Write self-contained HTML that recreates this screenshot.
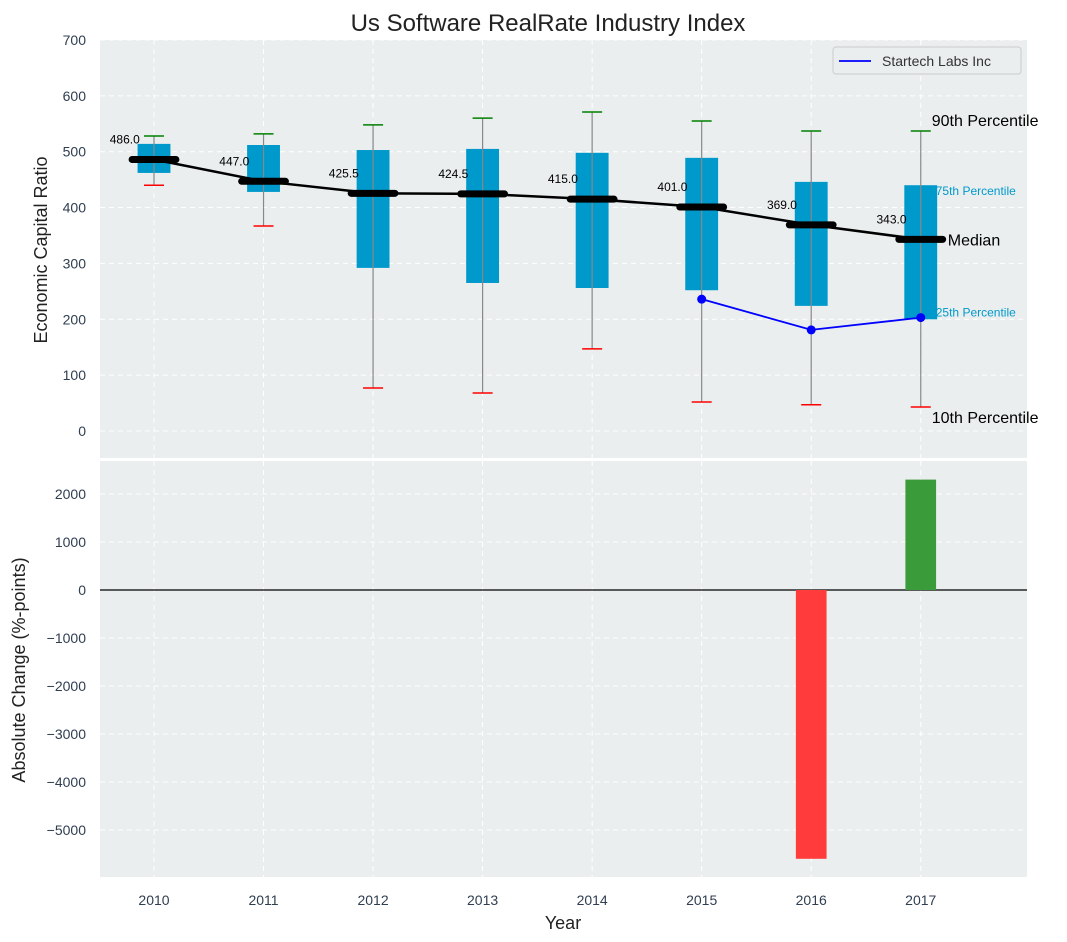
<!DOCTYPE html>
<html><head><meta charset="utf-8"><style>
body{margin:0;background:#fff;}
svg{display:block;font-family:"Liberation Sans","DejaVu Sans",sans-serif;}
</style></head><body>
<svg id="c" width="1067" height="942" xmlns="http://www.w3.org/2000/svg"></svg>
<script>
const years=[2010,2011,2012,2013,2014,2015,2016,2017];
const p10=[440,367,77,68,147,52,47,43];
const q25=[462,428,292,265,256,252,224,200];
const medians=[486,447,425.5,424.5,415,401,369,343];
const q75=[514,512,503,505,498,489,446,440];
const p90=[528,532,548,560,571,555,537,537];
const companyYears=[2015,2016,2017];
const companyVals=[236,181,203];
const changeYears=[2016,2017];
const changeVals=[-5600,2300];
const topTicks=[0,100,200,300,400,500,600,700];
const botTicks=[-5000,-4000,-3000,-2000,-1000,0,1000,2000];

const NS="http://www.w3.org/2000/svg";
const svg=document.getElementById('c');
function el(tag,attrs,parent){const e=document.createElementNS(NS,tag);for(const k in attrs)e.setAttribute(k,attrs[k]);(parent||svg).appendChild(e);return e;}
const L=100,R=1027;
const x=i=>L+(i+0.493)*( (R-L)/8.463 );
const yT=v=>431-v*0.5586;
const yB=v=>590-v*0.048;
const TT=40,TB=458,BT=461,BB=877;

let r=el('rect',{x:L,y:TT,width:R-L,height:TB-TT,fill:'#eaeeee'});

r=el('rect',{x:L,y:BT,width:R-L,height:BB-BT,fill:'#eaeeee'});


years.forEach((yr,i)=>{
  el('line',{x1:x(i),x2:x(i),y1:TT,y2:TB,stroke:'#fff','stroke-dasharray':'5,4','stroke-width':1});
  el('line',{x1:x(i),x2:x(i),y1:BT,y2:BB,stroke:'#fff','stroke-dasharray':'5,4','stroke-width':1});
  const t=el('text',{x:x(i),y:905,'text-anchor':'middle','font-size':14,fill:'#2f3e50'});t.textContent=yr;
  
});
topTicks.forEach(v=>{
  el('line',{x1:L,x2:R,y1:yT(v),y2:yT(v),stroke:'#fff','stroke-dasharray':'5,4'});
  const t=el('text',{x:86,y:yT(v)+5,'text-anchor':'end','font-size':14,fill:'#2f3e50'});t.textContent=v;
  
});
botTicks.forEach(v=>{
  el('line',{x1:L,x2:R,y1:yB(v),y2:yB(v),stroke:'#fff','stroke-dasharray':'5,4'});
  const t=el('text',{x:86,y:yB(v)+5,'text-anchor':'end','font-size':14,fill:'#2f3e50'});t.textContent=v<0?'\u2212'+(-v):v;
  
});

const bw=(R-L)/8.463;
years.forEach((yr,i)=>{
  const cx=x(i);
  let b=el('rect',{x:cx-0.15*bw,y:yT(q75[i]),width:0.3*bw,height:yT(q25[i])-yT(q75[i]),fill:'#0099cc'});
  
  let w=el('line',{x1:cx,x2:cx,y1:yT(p90[i]),y2:yT(p10[i]),stroke:'#888','stroke-width':1.2});
  
  el('line',{x1:cx-10,x2:cx+10,y1:yT(p90[i]),y2:yT(p90[i]),stroke:'green','stroke-width':1.5});
  el('line',{x1:cx-10,x2:cx+10,y1:yT(p10[i]),y2:yT(p10[i]),stroke:'red','stroke-width':1.5});
});
let pts=years.map((yr,i)=>x(i)+','+yT(medians[i])).join(' ');
let ml=el('polyline',{points:pts,fill:'none',stroke:'#000','stroke-width':2.5});

years.forEach((yr,i)=>{
  const cx=x(i);
  let m=el('line',{x1:cx-0.2*bw,x2:cx+0.2*bw,y1:yT(medians[i]),y2:yT(medians[i]),stroke:'#000','stroke-width':7,'stroke-linecap':'round'});
  
  let t=el('text',{x:cx-0.13*bw,y:yT(medians[i])-16,'text-anchor':'end','font-size':12,fill:'#000'});
  t.textContent=medians[i].toFixed(1);
  
});
const ci=companyYears.map(yr=>years.indexOf(yr));
let cl=el('polyline',{points:ci.map((i,k)=>x(i)+','+yT(companyVals[k])).join(' '),fill:'none',stroke:'blue','stroke-width':1.8});

ci.forEach((i,k)=>{let p=el('circle',{cx:x(i),cy:yT(companyVals[k]),r:4.5,fill:'blue'});
  });

const li=years.length-1, lx=x(li);
function ann(txt,xx,yy,size,col,name){const t=el('text',{x:xx,y:yy,'font-size':size,fill:col});t.textContent=txt;
  }
ann('90th Percentile',lx+11,yT(p90[li])-5,16,'#000','p90-annotation');
ann('75th Percentile',lx+15,yT(q75[li])+10,12,'#0099cc','p75-annotation');
ann('Median',lx+27,yT(medians[li])+6,16,'#000','median-annotation');
ann('25th Percentile',lx+15,yT(q25[li])-3,12,'#0099cc','p25-annotation');
ann('10th Percentile',lx+11,yT(p10[li])+16,16,'#000','p10-annotation');

el('line',{x1:L,x2:R,y1:yB(0),y2:yB(0),stroke:'#000','stroke-width':1.2});
changeYears.forEach((yr,k)=>{
  const i=years.indexOf(yr),v=changeVals[k];
  let b=el('rect',{x:x(i)-0.14*bw,y:Math.min(yB(v),yB(0)),width:0.28*bw,height:Math.abs(yB(v)-yB(0)),fill:v<0?'#ff3b3b':'#3a9b3a'});
  
});

let t=el('text',{x:548,y:31,'text-anchor':'middle','font-size':24,fill:'#222'});t.textContent='Us Software RealRate Industry Index';

t=el('text',{x:563,y:929,'text-anchor':'middle','font-size':18,fill:'#222'});t.textContent='Year';

t=el('text',{x:0,y:0,'text-anchor':'middle','font-size':18,fill:'#222',transform:'translate(47,250) rotate(-90)'});t.textContent='Economic Capital Ratio';

t=el('text',{x:0,y:0,'text-anchor':'middle','font-size':18,fill:'#222',transform:'translate(25,670) rotate(-90)'});t.textContent='Absolute Change (%-points)';


const lg=el('g',{});

el('rect',{x:833,y:47,width:188,height:27,rx:3,fill:'#eaeeee',stroke:'#ccc'},lg);
el('line',{x1:839,x2:871,y1:61,y2:61,stroke:'blue','stroke-width':1.8},lg);
t=el('text',{x:882,y:66,'font-size':14,fill:'#333'},lg);t.textContent='Startech Labs Inc';

</script>
</body></html>
